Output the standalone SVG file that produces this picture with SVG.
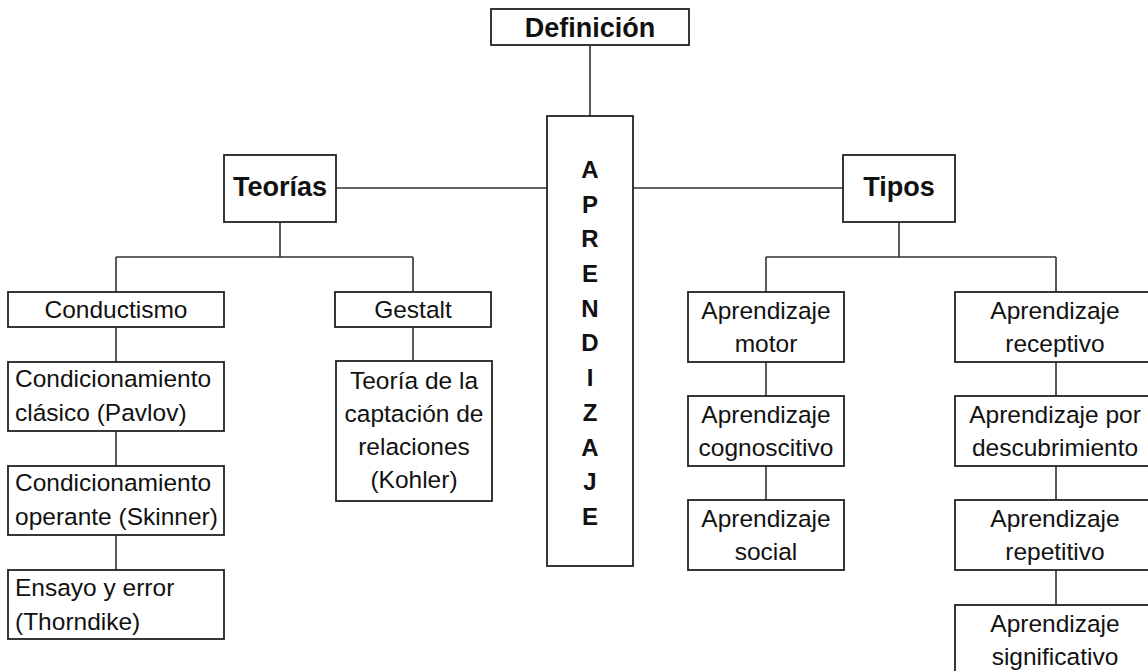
<svg xmlns="http://www.w3.org/2000/svg" width="1148" height="671" viewBox="0 0 1148 671">
<style>
.box{fill:#fff;stroke:#222;stroke-width:1.8}
.ln{fill:none;stroke:#333;stroke-width:1.6}
.t{font-family:"Liberation Sans",Arial,sans-serif;font-size:24.5px;fill:#111}
.c{text-anchor:middle}
.b{font-weight:bold;font-size:27px}
.v{font-family:"Liberation Sans",Arial,sans-serif;font-size:24px;font-weight:bold;fill:#111;text-anchor:middle}
</style>
<rect width="1148" height="671" fill="#fff"/>
<g id="connectors">
<path class="ln" d="M590 45V116M336 188H547M633 188H843M280 222V257M116 257H413M116 257V292M413 257V292M899 222V257M766 257H1056M766 257V292M1056 257V292M116 327V362M116 431V466M116 535V570M413 327V361M766 362V396M766 466V500M1056 362V396M1056 466V500M1056 570V605"/>
</g>
<g id="definicion"><rect class="box" x="491" y="9" width="198" height="36"/><text class="t b c" x="590" y="37">Definición</text></g>
<g id="aprendizaje"><rect class="box" x="547" y="116" width="86" height="450"/>
<text class="v" x="590" y="178">A</text><text class="v" x="590" y="213">P</text><text class="v" x="590" y="247">R</text><text class="v" x="590" y="282">E</text><text class="v" x="590" y="317">N</text><text class="v" x="590" y="351">D</text><text class="v" x="590" y="386">I</text><text class="v" x="590" y="421">Z</text><text class="v" x="590" y="456">A</text><text class="v" x="590" y="490">J</text><text class="v" x="590" y="525">E</text></g>
<g id="teorias"><rect class="box" x="224" y="155" width="112" height="67"/><text class="t b c" x="280" y="196">Teorías</text></g>
<g id="tipos"><rect class="box" x="843" y="155" width="112" height="67"/><text class="t b c" x="899" y="196">Tipos</text></g>
<g id="conductismo"><rect class="box" x="8" y="292" width="216" height="35"/><text class="t c" x="116" y="318">Conductismo</text></g>
<g id="gestalt"><rect class="box" x="335" y="292" width="156" height="35"/><text class="t c" x="413" y="318">Gestalt</text></g>
<g id="clasico"><rect class="box" x="8" y="362" width="216" height="69"/><text class="t" x="15" y="387">Condicionamiento</text><text class="t" x="15" y="421">clásico (Pavlov)</text></g>
<g id="operante"><rect class="box" x="8" y="466" width="216" height="69"/><text class="t" x="15" y="491">Condicionamiento</text><text class="t" x="15" y="525">operante (Skinner)</text></g>
<g id="ensayo"><rect class="box" x="8" y="570" width="216" height="69"/><text class="t" x="15" y="596">Ensayo y error</text><text class="t" x="15" y="630">(Thorndike)</text></g>
<g id="captacion"><rect class="box" x="336" y="361" width="156" height="140"/><text class="t c" x="414" y="389">Teoría de la</text><text class="t c" x="414" y="422">captación de</text><text class="t c" x="414" y="455">relaciones</text><text class="t c" x="414" y="488">(Kohler)</text></g>
<g id="motor"><rect class="box" x="688" y="292" width="156" height="70"/><text class="t c" x="766" y="319">Aprendizaje</text><text class="t c" x="766" y="352">motor</text></g>
<g id="cognoscitivo"><rect class="box" x="688" y="396" width="156" height="70"/><text class="t c" x="766" y="423">Aprendizaje</text><text class="t c" x="766" y="456">cognoscitivo</text></g>
<g id="social"><rect class="box" x="688" y="500" width="156" height="70"/><text class="t c" x="766" y="527">Aprendizaje</text><text class="t c" x="766" y="560">social</text></g>
<g id="receptivo"><rect class="box" x="955" y="292" width="202" height="70"/><text class="t c" x="1055" y="319">Aprendizaje</text><text class="t c" x="1055" y="352">receptivo</text></g>
<g id="descubrimiento"><rect class="box" x="955" y="396" width="202" height="70"/><text class="t c" x="1055" y="423">Aprendizaje por</text><text class="t c" x="1055" y="456">descubrimiento</text></g>
<g id="repetitivo"><rect class="box" x="955" y="500" width="202" height="70"/><text class="t c" x="1055" y="527">Aprendizaje</text><text class="t c" x="1055" y="560">repetitivo</text></g>
<g id="significativo"><rect class="box" x="955" y="605" width="202" height="80"/><text class="t c" x="1055" y="632">Aprendizaje</text><text class="t c" x="1055" y="665">significativo</text></g>
</svg>
